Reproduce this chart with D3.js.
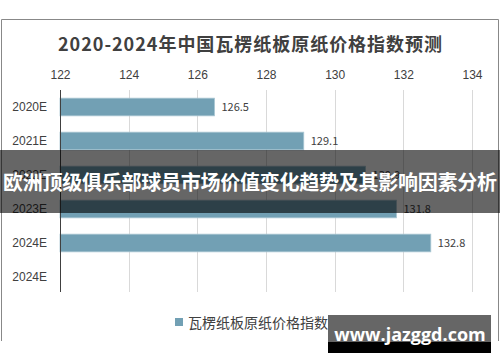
<!DOCTYPE html>
<html>
<head>
<meta charset="utf-8">
<script src="https://cdn.jsdelivr.net/npm/d3@7/dist/d3.min.js"></script>
<style>
  body { margin: 0; background: #fff; }
  svg { display: block; font-family: "Noto Sans CJK SC", "Noto Sans", sans-serif; }
  .grid-line { stroke: #d9d9d9; stroke-width: 1; }
  .x-axis text, .y-axis text { fill: #404040; font-size: 12px; }
</style>
</head>
<body>
<div class="app"></div>
<script>
'use strict'

var width = 500;
var height = 362;

var categories = ["2020E", "2021E", "2022E", "2023E", "2024E", "2024E "];
var values = [126.5, 129.1, 130.9, 131.8, 132.8, null];
var tickValues = [122, 124, 126, 128, 130, 132, 134];
var seriesName = "瓦楞纸板原纸价格指数";
var title = "2020-2024年中国瓦楞纸板原纸价格指数预测";
var overlayTitle = "欧洲顶级俱乐部球员市场价值变化趋势及其影响因素分析";
var watermark = "www.jazggd.com";

var plot = {left: 60, right: 472, top: 90, bottom: 294};

var svg = d3.select(".app")
            .append("svg")
            .attr("width", width)
            .attr("height", height);

// рамка
svg.append("path")
   .attr("d", "M1.5,341 V19.5 H498.5 V341")
   .attr("fill", "none")
   .attr("stroke", "#888")
   .attr("stroke-width", 1);

svg.append("text")
   .attr("x", 250)
   .attr("y", 51)
   .attr("text-anchor", "middle")
   .attr("font-size", 18)
   .attr("font-weight", "bold")
   .attr("fill", "#404040")
   .attr("textLength", 384)
   .text(title);

var scaleX = d3.scaleLinear()
               .domain([122, 134])
               .range([plot.left, plot.right]);

var scaleY = d3.scaleBand()
               .domain(categories)
               .range([plot.top, plot.bottom])
               .paddingInner(0.48)
               .paddingOuter(0.24);

// сетка
svg.append("g")
   .selectAll("line")
   .data(tickValues.slice(1))
   .join("line")
   .attr("class", "grid-line")
   .attr("x1", function(d) { return Math.round(scaleX(d)) + 0.5; })
   .attr("x2", function(d) { return Math.round(scaleX(d)) + 0.5; })
   .attr("y1", plot.top)
   .attr("y2", plot.bottom - 2);

var xAxis = d3.axisTop(scaleX)
              .tickValues(tickValues)
              .tickSize(0)
              .tickPadding(0);

svg.append("g")
   .attr("class", "x-axis")
   .attr("transform", "translate(0," + 79 + ")")
   .call(xAxis)
   .call(function(g) { g.select(".domain").remove(); });

// столбики
svg.append("g")
   .selectAll("rect")
   .data(values.map(function(v, i) { return {cat: categories[i], v: v}; })
               .filter(function(d) { return d.v !== null; }))
   .join("rect")
   .attr("x", scaleX(122))
   .attr("y", function(d) { return scaleY(d.cat); })
   .attr("width", function(d) { return scaleX(d.v) - scaleX(122); })
   .attr("height", scaleY.bandwidth())
   .attr("fill", "#72a0b4")
   .attr("stroke", "#a9c6d3")
   .attr("stroke-width", 0.8);

svg.append("g")
   .selectAll("text")
   .data(values.map(function(v, i) { return {cat: categories[i], v: v}; })
               .filter(function(d) { return d.v !== null; }))
   .join("text")
   .attr("x", function(d) { return scaleX(d.v) + 7; })
   .attr("y", function(d) { return scaleY(d.cat) + scaleY.bandwidth() / 2; })
   .attr("dy", "0.35em")
   .attr("font-size", 11)
   .attr("fill", "#404040")
   .text(function(d) { return d.v.toFixed(1); });

var yAxis = d3.axisLeft(scaleY)
              .tickSize(0)
              .tickPadding(13)
              .tickFormat(function(d) { return d.trim(); });

svg.append("g")
   .attr("class", "y-axis")
   .attr("transform", "translate(" + plot.left + ",0)")
   .call(yAxis)
   .call(function(g) {
     g.select(".domain")
      .attr("d", "M0.5," + plot.top + "V" + (plot.bottom - 2))
      .attr("stroke", "#404040");
   });

// легенда
svg.append("rect")
   .attr("x", 175)
   .attr("y", 318)
   .attr("width", 8)
   .attr("height", 8)
   .attr("fill", "#72a0b4");

svg.append("text")
   .attr("x", 188)
   .attr("y", 328)
   .attr("font-size", 14)
   .attr("fill", "#404040")
   .text(seriesName);

// полупрозрачная полоса с заголовком
svg.append("rect")
   .attr("x", 0)
   .attr("y", 150)
   .attr("width", width)
   .attr("height", 63)
   .attr("fill", "rgba(0,0,0,0.6)");

svg.append("text")
   .attr("x", 250)
   .attr("y", 190)
   .attr("text-anchor", "middle")
   .attr("font-size", 20)
   .attr("font-weight", "bold")
   .attr("fill", "#fff")
   .attr("textLength", 494)
   .text(overlayTitle);

// водяной знак
svg.append("rect")
   .attr("x", 328)
   .attr("y", 315)
   .attr("width", 163)
   .attr("height", 38)
   .attr("fill", "#666");

svg.append("rect")
   .attr("x", 328)
   .attr("y", 342)
   .attr("width", 163)
   .attr("height", 11)
   .attr("fill", "#000");

svg.append("text")
   .attr("x", 410)
   .attr("y", 341)
   .attr("text-anchor", "middle")
   .attr("font-family", "Open Sans, sans-serif")
   .attr("font-size", 18)
   .attr("font-weight", "bold")
   .attr("fill", "#fff")
   .text(watermark);
</script>
</body>
</html>
